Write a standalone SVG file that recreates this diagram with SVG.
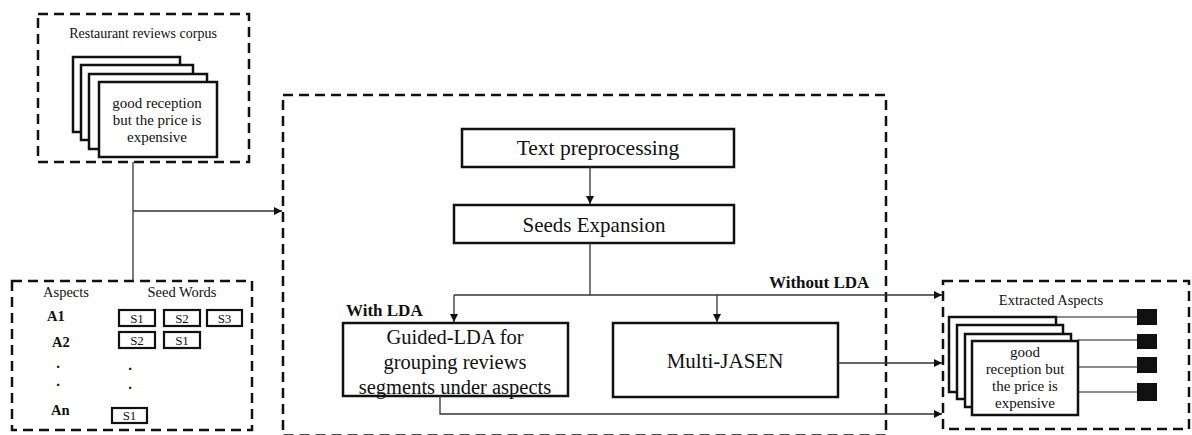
<svg xmlns="http://www.w3.org/2000/svg" width="1192" height="435" viewBox="0 0 1192 435" font-family="'Liberation Serif', 'Times New Roman', 'DejaVu Serif', serif">
<style>
text{font-family:'Liberation Serif','Times New Roman','DejaVu Serif',serif;fill:#111;}
.dash{fill:none;stroke:#111;stroke-width:2.5;stroke-dasharray:10 6;}
.box{fill:#fff;stroke:#111;stroke-width:2.5;}
.sbox{fill:#fff;stroke:#111;stroke-width:2.2;}
.conn{fill:none;stroke:#333;stroke-width:1.3;}
.glin{fill:none;stroke:#666;stroke-width:1.3;}
.sq{fill:#111;}
.b{font-weight:bold;}
</style>
<defs>
<marker id="arr" viewBox="0 0 10 10" refX="10" refY="5" markerWidth="8" markerHeight="8" markerUnits="userSpaceOnUse" orient="auto">
<path d="M0,0 L10,5 L0,10 z" fill="#111"/>
</marker>
</defs>

<g id="corpus">
<rect class="dash" x="38" y="14" width="211" height="148"/>
<text x="143" y="38" font-size="14" text-anchor="middle">Restaurant reviews corpus</text>
<rect class="box" x="73" y="57" width="107" height="75"/>
<rect class="box" x="81" y="65" width="112" height="75"/>
<rect class="box" x="89" y="74" width="118" height="75"/>
<rect class="box" x="99" y="82" width="118" height="75"/>
<text x="157" y="108" font-size="15" text-anchor="middle">good reception</text>
<text x="157" y="125" font-size="15" text-anchor="middle">but the price is</text>
<text x="157" y="142" font-size="15" text-anchor="middle">expensive</text>
</g>

<g id="aspects">
<rect class="dash" x="12" y="281" width="240" height="149"/>
<text x="66" y="297" font-size="14.5" text-anchor="middle">Aspects</text>
<text x="182" y="297" font-size="14.5" text-anchor="middle">Seed Words</text>
<text x="47" y="321" font-size="14.5" class="b">A1</text>
<text x="52" y="347" font-size="14.5" class="b">A2</text>
<text x="51" y="415" font-size="14.5" class="b">An</text>
<text x="58" y="368" font-size="15" text-anchor="middle" class="b">.</text>
<text x="58" y="386" font-size="15" text-anchor="middle" class="b">.</text>
<text x="130" y="370" font-size="15" text-anchor="middle" class="b">.</text>
<text x="130" y="389" font-size="15" text-anchor="middle" class="b">.</text>
<rect class="sbox" x="119" y="310" width="36" height="16"/>
<text x="137" y="323" font-size="13" text-anchor="middle">S1</text>
<rect class="sbox" x="164" y="310" width="36" height="16"/>
<text x="182" y="323" font-size="13" text-anchor="middle">S2</text>
<rect class="sbox" x="207" y="310" width="35" height="16"/>
<text x="224.5" y="323" font-size="13" text-anchor="middle">S3</text>
<rect class="sbox" x="119" y="332" width="36" height="16"/>
<text x="137" y="345" font-size="13" text-anchor="middle">S2</text>
<rect class="sbox" x="164" y="332" width="36" height="16"/>
<text x="182" y="345" font-size="13" text-anchor="middle">S1</text>
<rect class="sbox" x="112" y="408" width="35" height="15"/>
<text x="129.5" y="420" font-size="13" text-anchor="middle">S1</text>
</g>

<g id="pipeline">
<rect class="dash" x="283" y="95" width="603" height="340.5"/>
</g>

<g id="text-preprocessing">
<rect class="box" x="462" y="129" width="272" height="38"/>
<text x="598" y="155" font-size="21.5" text-anchor="middle">Text preprocessing</text>
</g>

<g id="seeds-expansion">
<rect class="box" x="454" y="205" width="280" height="38"/>
<text x="594" y="232" font-size="21" text-anchor="middle">Seeds Expansion</text>
</g>

<g id="guided-lda">
<rect class="box" x="343" y="323" width="225" height="73"/>
<text x="455" y="344" font-size="20.5" text-anchor="middle">Guided-LDA for</text>
<text x="455" y="369" font-size="20.5" text-anchor="middle">grouping reviews</text>
<text x="455" y="394" font-size="20.5" text-anchor="middle">segments under aspects</text>
</g>

<g id="multi-jasen">
<rect class="box" x="613" y="323" width="225" height="74"/>
<text x="725" y="368" font-size="21" text-anchor="middle">Multi-JASEN</text>
</g>

<g id="extracted">
<rect class="dash" x="943" y="281" width="246" height="148"/>
<text x="1051" y="305" font-size="14.5" text-anchor="middle">Extracted Aspects</text>
<line class="glin" x1="1056" y1="317" x2="1137" y2="317"/>
<line class="glin" x1="1078" y1="340" x2="1137" y2="340"/>
<line class="glin" x1="1078" y1="367" x2="1137" y2="367"/>
<line class="glin" x1="1078" y1="392" x2="1137" y2="392"/>
<rect class="box" x="949" y="317" width="107" height="75"/>
<rect class="box" x="957" y="325" width="106" height="74"/>
<rect class="box" x="965" y="334" width="106" height="73"/>
<rect class="box" x="972" y="341" width="106" height="74"/>
<text x="1025" y="357" font-size="15" text-anchor="middle">good</text>
<text x="1025" y="374" font-size="15" text-anchor="middle">reception but</text>
<text x="1025" y="391" font-size="15" text-anchor="middle">the price is</text>
<text x="1025" y="408" font-size="15" text-anchor="middle">expensive</text>
<rect class="sq" x="1137" y="309" width="20" height="16"/>
<rect class="sq" x="1137" y="334" width="20" height="15"/>
<rect class="sq" x="1137" y="357" width="20" height="16"/>
<rect class="sq" x="1137" y="383" width="20" height="18"/>
</g>

<g id="labels">
<text x="346" y="316" font-size="17" class="b">With LDA</text>
<text x="769" y="288" font-size="17" class="b">Without LDA</text>
</g>

<g id="connectors">
<polyline class="conn" points="133,162 133,281"/>
<polyline class="conn" points="133,211 282,211" marker-end="url(#arr)"/>
<polyline class="conn" points="590,167 590,204" marker-end="url(#arr)"/>
<polyline class="conn" points="590,243 590,295"/>
<polyline class="conn" points="454,295 454,322" marker-end="url(#arr)"/>
<polyline class="conn" points="454,295 942,295" marker-end="url(#arr)"/>
<polyline class="conn" points="717,295 717,322" marker-end="url(#arr)"/>
<polyline class="conn" points="838,363 942,363" marker-end="url(#arr)"/>
<polyline class="conn" points="440,396 440,414 942,414" marker-end="url(#arr)"/>
</g>
</svg>
